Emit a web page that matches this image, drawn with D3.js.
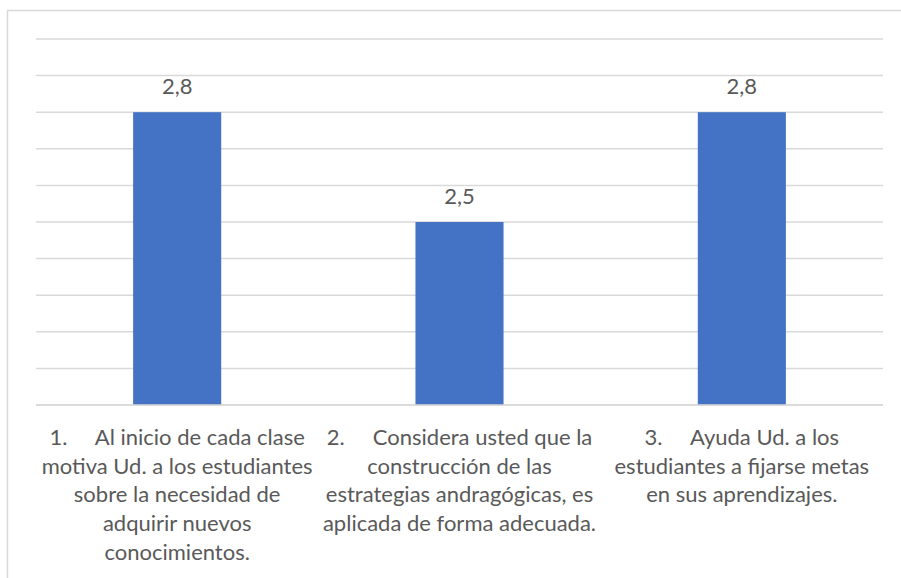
<!DOCTYPE html>
<html>
<head>
<meta charset="utf-8">
<script src="https://cdn.jsdelivr.net/npm/d3@7"></script>
<style>
  html, body { margin: 0; padding: 0; background: #fff; }
  svg { display: block; }
  text { font-family: Lato, "Open Sans", sans-serif; fill: #595959; }
</style>
</head>
<body>
<svg id="chart" width="901" height="578"></svg>
<script>
// Survey items (each wrapped over several lines as in the category axis)
const categories = [
  ["1.     Al inicio de cada clase", "motiva Ud. a los estudiantes", "sobre la necesidad de", "adquirir nuevos", "conocimientos."],
  ["2.     Considera usted que la", "construcción de las", "estrategias andragógicas, es", "aplicada de forma adecuada."],
  ["3.     Ayuda Ud. a los", "estudiantes a fijarse metas", "en sus aprendizajes."]
];
const values = [2.8, 2.5, 2.8];
const valueLabels = ["2,8", "2,5", "2,8"];
const yDomain = [2.0, 3.0];
const gridTicks = [2.0, 2.1, 2.2, 2.3, 2.4, 2.5, 2.6, 2.7, 2.8, 2.9, 3.0];

const svg = d3.select("#chart");
const plot = { left: 36, right: 883, top: 39, bottom: 405 };

// chart frame (extends past the right and bottom edges)
svg.append("rect")
  .attr("x", 7.5).attr("y", 10.5)
  .attr("width", 1000).attr("height", 1000)
  .attr("fill", "#fff")
  .attr("stroke", "#d9d9d9").attr("stroke-width", 1.5);

const x = d3.scaleBand()
  .domain(d3.range(categories.length))
  .range([plot.left, plot.right])
  .paddingInner(0.688)
  .paddingOuter(0.344);

const y = d3.scaleLinear().domain(yDomain).range([plot.bottom, plot.top]);

// horizontal gridlines
svg.append("g")
  .selectAll("line")
  .data(gridTicks)
  .join("line")
  .attr("x1", plot.left).attr("x2", plot.right)
  .attr("y1", d => y(d)).attr("y2", d => y(d))
  .attr("stroke", "#d9d9d9").attr("stroke-width", 1.5);

// bars
svg.append("g")
  .selectAll("rect")
  .data(values)
  .join("rect")
  .attr("x", (d, i) => x(i))
  .attr("width", x.bandwidth())
  .attr("y", d => y(d))
  .attr("height", d => y(yDomain[0]) - y(d))
  .attr("fill", "#4472c4");

// baseline axis
svg.append("line")
  .attr("x1", plot.left).attr("x2", plot.right)
  .attr("y1", y(yDomain[0])).attr("y2", y(yDomain[0]))
  .attr("stroke", "#d9d9d9").attr("stroke-width", 1.5);

// value labels
svg.append("g")
  .selectAll("text")
  .data(values)
  .join("text")
  .attr("x", (d, i) => x(i) + x.bandwidth() / 2)
  .attr("y", d => y(d) - 18.5)
  .attr("text-anchor", "middle")
  .attr("font-size", 22)
  .text((d, i) => valueLabels[i]);

// category labels
const lineHeight = 28.7;
const catG = svg.append("g");
categories.forEach((lines, i) => {
  const t = catG.append("text")
    .attr("text-anchor", "middle")
    .attr("font-size", 22)
    .attr("xml:space", "preserve")
    .style("white-space", "pre");
  lines.forEach((ln, j) => {
    t.append("tspan")
      .attr("x", x(i) + x.bandwidth() / 2)
      .attr("y", 445 + j * lineHeight)
      .text(ln);
  });
});
</script>
</body>
</html>
